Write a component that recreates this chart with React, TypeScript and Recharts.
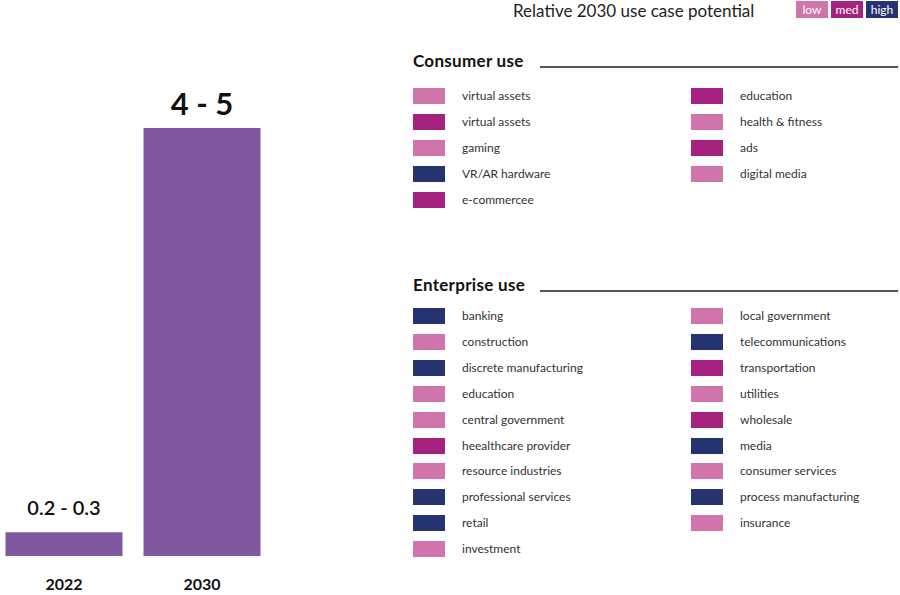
import React from "react";
import { BarChart, Bar, XAxis, YAxis, LabelList } from "recharts";

// market size, left chart
const years = ["2022", "2030"];
const marketMid = [0.25, 4.5];
const marketLabels = ["0.2 - 0.3", "4 - 5"];

// potential levels
const levelNames = ["low", "med", "high"];
const levelColors: Record<string, string> = {
  low: "#d074ab",
  med: "#a5227f",
  high: "#253470",
};

// consumer use cases (left column then right column)
const consumerLeft = ["virtual assets", "virtual assets", "gaming", "VR/AR hardware", "e-commercee"];
const consumerLeftLevel = ["low", "med", "low", "high", "med"];
const consumerRight = ["education", "health & fitness", "ads", "digital media"];
const consumerRightLevel = ["med", "low", "med", "low"];

// enterprise use cases
const enterpriseLeft = [
  "banking", "construction", "discrete manufacturing", "education", "central government",
  "heealthcare provider", "resource industries", "professional services", "retail", "investment",
];
const enterpriseLeftLevel = ["high", "low", "high", "low", "low", "med", "low", "high", "high", "low"];
const enterpriseRight = [
  "local government", "telecommunications", "transportation", "utilities", "wholesale",
  "media", "consumer services", "process manufacturing", "insurance",
];
const enterpriseRightLevel = ["low", "high", "med", "low", "med", "high", "low", "high", "low"];

const BAR_COLOR = "#8158a0";
const FONT = "Lato, 'Noto Sans', sans-serif";

const chartData = years.map((y, i) => ({ year: y, value: marketMid[i], label: marketLabels[i] }));

function TopLabel(props: any) {
  const { x, y, width, value, index } = props;
  const big = index === chartData.length - 1;
  return (
    <text
      x={x + width / 2}
      y={y - (big ? 13 : 17)}
      textAnchor="middle"
      fontSize={big ? 31 : 20}
      fontWeight={big ? 700 : 600}
      fill="#111"
      fontFamily={FONT}
    >
      {value}
    </text>
  );
}

function UseList({ names, levels, left, top, step }: any) {
  return (
    <>
      {names.map((n: string, i: number) => (
        <div
          key={i}
          style={{
            position: "absolute",
            left,
            top: top + i * step - 8,
            height: 16,
            display: "flex",
            alignItems: "center",
          }}
        >
          <div style={{ width: 32, height: 16, background: levelColors[levels[i]] }} />
          <span style={{ marginLeft: 17, fontSize: 12, color: "#333", lineHeight: "16px", whiteSpace: "nowrap" }}>{n}</span>
        </div>
      ))}
    </>
  );
}

function Heading({ text, top }: any) {
  return (
    <>
      <div
        style={{
          position: "absolute",
          left: 413,
          top,
          fontSize: 17,
          letterSpacing: 0.3,
          fontWeight: 700,
          color: "#111",
          lineHeight: "20px",
        }}
      >
        {text}
      </div>
      <div style={{ position: "absolute", left: 540, width: 358, top: top + 15, height: 2, background: "#555" }} />
    </>
  );
}

export default function App() {
  return (
    <div style={{ position: "relative", width: 900, height: 595, background: "#fff", fontFamily: FONT, overflow: "hidden" }}>
      <style>{"body{margin:0}"}</style>
      <div style={{ position: "absolute", left: -5, top: 0 }}>
        <BarChart
          width={276}
          height={595}
          data={chartData}
          margin={{ top: 128, right: 0, bottom: 0, left: 0 }}
          barCategoryGap={10.5}
        >
          <XAxis
            dataKey="year"
            height={39}
            axisLine={false}
            tickLine={false}
            tickMargin={17}
            tick={{ fill: "#111", fontSize: 16, fontWeight: 700, fontFamily: FONT }}
          />
          <YAxis hide domain={[0, 4.5]} />
          <Bar dataKey="value" fill={BAR_COLOR} isAnimationActive={false}>
            <LabelList dataKey="label" content={<TopLabel />} />
          </Bar>
        </BarChart>
      </div>

      <div style={{ position: "absolute", left: 513, top: 0, fontSize: 17, color: "#222", lineHeight: "22px" }}>
        Relative 2030 use case potential
      </div>
      {levelNames.map((l, i) => (
        <div
          key={l}
          style={{
            position: "absolute",
            left: 796 + i * 35,
            top: 1,
            width: 32,
            height: 17,
            background: levelColors[l],
            color: "#fff",
            fontSize: 12,
            lineHeight: "17px",
            textAlign: "center",
          }}
        >
          {l}
        </div>
      ))}

      <Heading text="Consumer use" top={51} />
      <UseList names={consumerLeft} levels={consumerLeftLevel} left={413} top={96} step={26} />
      <UseList names={consumerRight} levels={consumerRightLevel} left={691} top={96} step={26} />

      <Heading text="Enterprise use" top={275} />
      <UseList names={enterpriseLeft} levels={enterpriseLeftLevel} left={413} top={316} step={25.9} />
      <UseList names={enterpriseRight} levels={enterpriseRightLevel} left={691} top={316} step={25.9} />
    </div>
  );
}
